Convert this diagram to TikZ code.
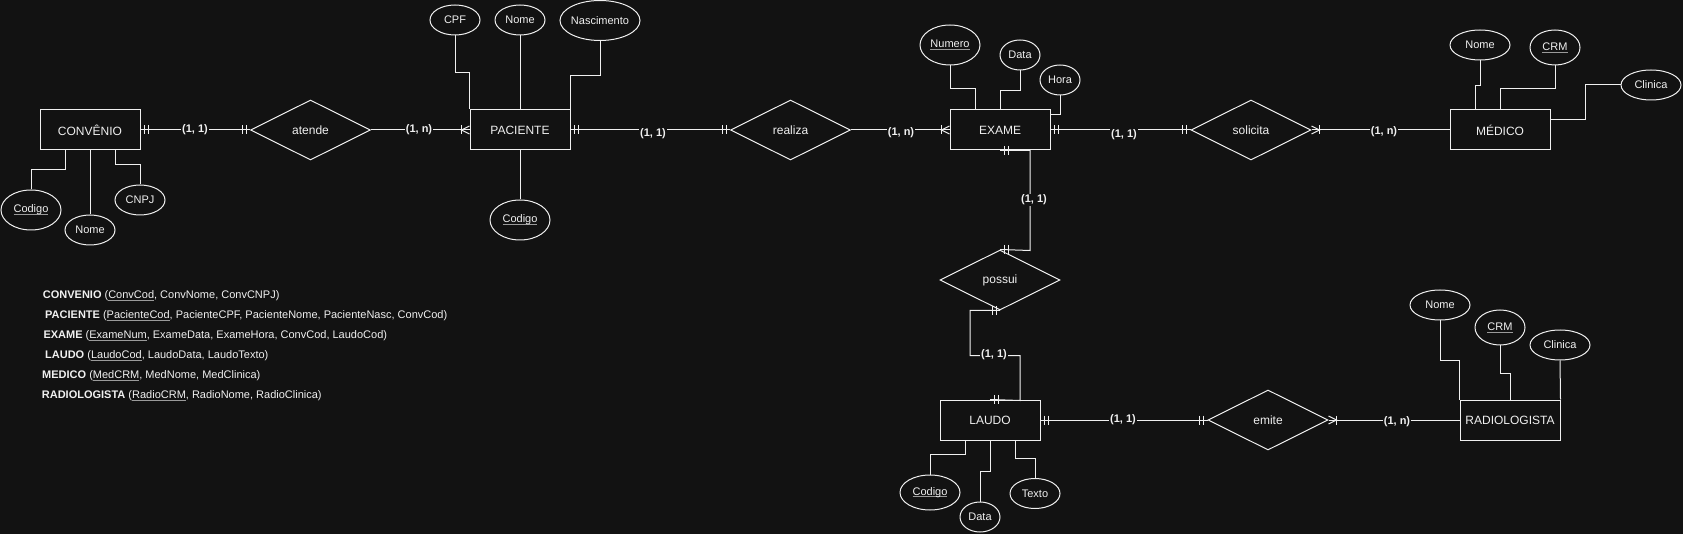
\documentclass[tikz,border=0pt]{standalone}
\usepackage{fontspec}
\setmainfont{Liberation Sans}
\usetikzlibrary{shapes.geometric,calc}
\definecolor{bgc}{HTML}{121212}
\definecolor{fgc}{HTML}{F0F0F0}
\definecolor{ulc}{HTML}{9A9A9A}
\newcommand\keyul[1]{\setbox0\hbox{#1}\rlap{\textcolor{ulc}{\rule[-1.8pt]{\wd0}{0.7pt}}}\box0}
\newcommand\mandH[2]{%
  \draw[conn] ([xshift=#2*4pt]#1) ++(0,-4.5) -- ++(0,9);
  \draw[conn] ([xshift=#2*8pt]#1) ++(0,-4.5) -- ++(0,9);}
\newcommand\crowH[2]{%
  \draw[conn] ([yshift=4pt]#1) -- ([xshift=#2*8pt]#1) -- ([yshift=-4pt]#1);
  \draw[conn] ([xshift=#2*8pt]#1) ++(0,-4.5) -- ++(0,9);}
\tikzset{
 ent/.style={draw=fgc, line width=1pt, minimum width=100pt, minimum height=40pt, inner sep=0pt, text=fgc, font=\fontsize{12}{14}\selectfont},
 rel/.style={draw=fgc, line width=1pt, shape=diamond, aspect=2, minimum width=120pt, minimum height=60pt, inner sep=0pt, text=fgc, font=\fontsize{12}{14}\selectfont},
 attr/.style={draw=fgc, line width=1pt, shape=ellipse, inner sep=0pt, text=fgc, font=\fontsize{11}{13}\selectfont},
 card/.style={fill=bgc, text=fgc, inner sep=1pt, font=\bfseries\fontsize{11}{13}\selectfont},
 conn/.style={draw=fgc, line width=1pt},
 schema/.style={anchor=west, text=fgc, inner sep=0pt, font=\fontsize{11}{13}\selectfont},
}
\begin{document}
\begin{tikzpicture}[x=1pt,y=-1pt]
\fill[bgc] (0,0) rectangle (1683,534);
\useasboundingbox (0,0) rectangle (1683,534);

% entities
\node[ent] (conv) at (90,130) {CONVÊNIO};
\node[ent] (pac) at (520,130) {PACIENTE};
\node[ent] (exame) at (1000,130) {EXAME};
\node[ent] (medico) at (1500,130) {MÉDICO};
\node[ent] (laudo) at (990,420) {LAUDO};
\node[ent] (radio) at (1510,420) {RADIOLOGISTA};

% relationships
\node[rel] (atende) at (310.5,130) {atende};
\node[rel] (realiza) at (790.5,130) {realiza};
\node[rel] (solicita) at (1251,130) {solicita};
\node[rel] (possui) at (1000,280) {possui};
\node[rel] (emite) at (1268,420) {emite};

% attributes
\node[attr, minimum width=60pt, minimum height=40pt] (convCod) at (31,210) {\makebox[0pt]{\keyul{Codigo}}};
\node[attr, minimum width=50pt, minimum height=30pt] (convNome) at (90,230) {\makebox[0pt]{Nome}};
\node[attr, minimum width=50pt, minimum height=30pt] (convCNPJ) at (140,200) {\makebox[0pt]{CNPJ}};
\node[attr, minimum width=50pt, minimum height=30pt] (pacCPF) at (455,20) {\makebox[0pt]{CPF}};
\node[attr, minimum width=50pt, minimum height=30pt] (pacNome) at (520,20) {\makebox[0pt]{Nome}};
\node[attr, minimum width=80pt, minimum height=40pt] (pacNasc) at (600,20.5) {\makebox[0pt]{Nascimento}};
\node[attr, minimum width=60pt, minimum height=40pt] (pacCod) at (520,220) {\makebox[0pt]{\keyul{Codigo}}};
\node[attr, minimum width=60pt, minimum height=40pt] (exNum) at (950,45) {\makebox[0pt]{\keyul{Numero}}};
\node[attr, minimum width=40pt, minimum height=30pt] (exData) at (1020,55) {\makebox[0pt]{Data}};
\node[attr, minimum width=40pt, minimum height=30pt] (exHora) at (1060,80) {\makebox[0pt]{Hora}};
\node[attr, minimum width=60pt, minimum height=30pt] (medNome) at (1480,45) {\makebox[0pt]{Nome}};
\node[attr, minimum width=50pt, minimum height=35pt] (medCRM) at (1555,47.5) {\makebox[0pt]{\keyul{CRM}}};
\node[attr, minimum width=60pt, minimum height=30pt] (medClin) at (1651,85) {\makebox[0pt]{Clinica}};
\node[attr, minimum width=60pt, minimum height=35pt] (laudoCod) at (930,492.5) {\makebox[0pt]{\keyul{Codigo}}};
\node[attr, minimum width=40pt, minimum height=30pt] (laudoData) at (980,517) {\makebox[0pt]{Data}};
\node[attr, minimum width=50pt, minimum height=30pt] (laudoTexto) at (1035,493.5) {\makebox[0pt]{Texto}};
\node[attr, minimum width=60pt, minimum height=30pt] (radNome) at (1440,305) {\makebox[0pt]{Nome}};
\node[attr, minimum width=50pt, minimum height=35pt] (radCRM) at (1500,327.5) {\makebox[0pt]{\keyul{CRM}}};
\node[attr, minimum width=60pt, minimum height=30pt] (radClin) at (1560,345) {\makebox[0pt]{Clinica}};

% attribute connectors
\draw[conn] (convCod.north) -- ++(0,-20) -| ([xshift=-25pt]conv.south);
\draw[conn] (convNome.north) -- (conv.south);
\draw[conn] (convCNPJ.north) -- ++(0,-20) -| ([xshift=25pt]conv.south);
\draw[conn] (pacCPF.south) -- ++(0,37.5) -| (pac.north west);
\draw[conn] (pacNome.south) -- (pac.north);
\draw[conn] (pacNasc.south) -- ++(0,35) -| (pac.north east);
\draw[conn] (pac.south) -- (pacCod.north);
\draw[conn] (exNum.south) -- ++(0,23) -| ([xshift=-25pt]exame.north);
\draw[conn] (exData.south) -- ++(0,20) -| (exame.north);
\draw[conn] (exHora.south) |- ([yshift=15pt]exame.east);
\draw[conn] (medNome.south) -- ++(0,25) -| ([xshift=-25pt]medico.north);
\draw[conn] (medCRM.south) -- ++(0,23) -| (medico.north);
\draw[conn] (medClin.west) -- ++(-35,0) |- ([yshift=10pt]medico.east);
\draw[conn] (laudoCod.north) -- ++(0,-20) -| ([xshift=-25pt]laudo.south);
\draw[conn] (laudoData.north) -- ++(0,-30) -| (laudo.south);
\draw[conn] (laudoTexto.north) -- ++(0,-20) -| ([xshift=25pt]laudo.south);
\draw[conn] (radNome.south) -- ++(0,40) -| (radio.north west);
\draw[conn] (radCRM.south) -- ++(0,27.5) -| (radio.north);
\draw[conn] (radClin.south) -- (radio.north east);

% relationship connectors
\draw[conn] (conv.east) -- (atende.west);
\mandH{conv.east}{1}
\mandH{atende.west}{-1}
\draw[conn] (atende.east) -- (pac.west);
\crowH{pac.west}{-1}
\draw[conn] (pac.east) -- (realiza.west);
\mandH{pac.east}{1}
\mandH{realiza.west}{-1}
\draw[conn] (realiza.east) -- (exame.west);
\crowH{exame.west}{-1}
\draw[conn] (exame.east) -- (solicita.west);
\mandH{exame.east}{1}
\mandH{solicita.west}{-1}
\draw[conn] (solicita.east) -- (medico.west);
\crowH{solicita.east}{1}
\draw[conn] (exame.south) -- ++(30,0) -- ++(0,100) -- (possui.north);
\mandH{exame.south}{1}
\mandH{possui.north}{1}
\draw[conn] (possui.south) -- ++(-30,0) -- ++(0,45) -- ++(50,0) -- ++(0,45) -- (laudo.north);
\mandH{possui.south}{-1}
\mandH{laudo.north}{1}
\draw[conn] (laudo.east) -- (emite.west);
\mandH{laudo.east}{1}
\mandH{emite.west}{-1}
\draw[conn] (emite.east) -- (radio.west);
\crowH{emite.east}{1}

% cardinalities
\node[card] (c1) at (195,130) {(1, 1)};
\node[card] (c2) at (419,130) {(1, n)};
\node[card] (c3) at (653,134) {(1, 1)};
\node[card] (c4) at (901,132.5) {(1, n)};
\node[card] (c5) at (1124,135) {(1, 1)};
\node[card] (c6) at (1384,132) {(1, n)};
\node[card] (c7) at (1034,200) {(1, 1)};
\node[card] (c8) at (994,355) {(1, 1)};
\node[card] (c9) at (1123,420) {(1, 1)};
\node[card] (c10) at (1397,422) {(1, n)};

% relational schema
\node[schema] (s1) at (42.7,296) {\textbf{CONVENIO} (\keyul{ConvCod}, ConvNome, ConvCNPJ)};
\node[schema] (s2) at (45,316) {\textbf{PACIENTE} (\keyul{PacienteCod}, PacienteCPF, PacienteNome, PacienteNasc, ConvCod)};
\node[schema] (s3) at (43.3,336) {\textbf{EXAME} (\keyul{ExameNum}, ExameData, ExameHora, ConvCod, LaudoCod)};
\node[schema] (s4) at (45,356) {\textbf{LAUDO} (\keyul{LaudoCod}, LaudoData, LaudoTexto)};
\node[schema] (s5) at (42,376) {\textbf{MEDICO} (\keyul{MedCRM}, MedNome, MedClinica)};
\node[schema] (s6) at (41.7,396) {\textbf{RADIOLOGISTA} (\keyul{RadioCRM}, RadioNome, RadioClinica)};
\end{tikzpicture}
\end{document}
